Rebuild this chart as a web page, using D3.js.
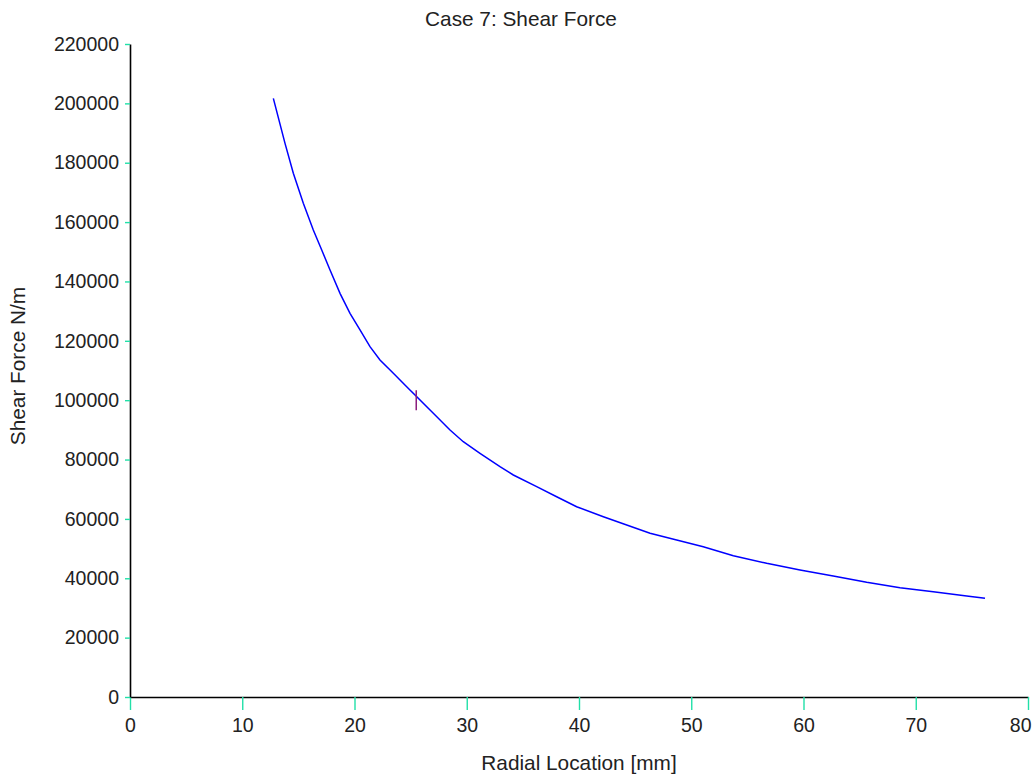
<!DOCTYPE html>
<html><head><meta charset="utf-8">
<script src="https://cdn.jsdelivr.net/npm/d3@7"></script>
<style>
body{margin:0;background:#fff;}
text{font-family:"Liberation Sans",Arial,sans-serif;fill:#222;}
</style></head>
<body><svg id="c" width="1034" height="779"></svg>
<script>
const radialMm = [12.77,13.81,14.55,15.44,16.33,17.08,17.82,18.71,19.6,20.49,21.38,22.27,23.46,24.65,25.39,26.73,28.51,29.69,31.18,32.96,34.15,36.23,38.01,39.79,42.17,44.25,46.33,48.7,51.07,53.75,56.72,59.69,62.65,65.63,68.6,71.56,74.54,76.17];
const shearForce = [201700,186540,176440,166330,157330,150600,143860,136000,129270,123650,118020,113540,109050,104540,101740,96690,89950,86010,82100,77590,74790,70850,67480,64110,60740,57950,55150,52890,50640,47600,45040,42790,40760,38640,36820,35480,34030,33250];
const xTicks = [0,10,20,30,40,50,60,70,80];
const yTicks = [0,20000,40000,60000,80000,100000,120000,140000,160000,180000,200000,220000];
const markerX = [25.5];
const markerY = [100000];
const title = "Case 7: Shear Force";
const xLabel = "Radial Location [mm]";
const yLabel = "Shear Force N/m";

const svg = d3.select("#c");
const L=130,R=1028,T=44,B=697;
const x = d3.scaleLinear().domain([0,80]).range([L,R]);
const y = d3.scaleLinear().domain([0,220000]).range([B,T]);
const tickCol = "#22e0a8";
const fs = 19.5;
const lfs = 20.8;

// x axis
const gx = svg.append("g").attr("transform",`translate(0,${B})`)
  .call(d3.axisBottom(x).tickValues(xTicks).tickSize(13).tickSizeOuter(0).tickFormat(d3.format("d")));
gx.select(".domain").attr("stroke","#000").attr("stroke-width",1.6);
gx.selectAll(".tick line").attr("stroke",tickCol).attr("stroke-width",1.4);
gx.selectAll(".tick text").attr("font-size",fs).attr("dy","1.0em").attr("y",15).attr("fill","#222");
gx.selectAll(".tick text").filter(d=>d===80).attr("text-anchor","end").attr("x",3);

// y axis
const gy = svg.append("g").attr("transform",`translate(${L},0)`)
  .call(d3.axisLeft(y).tickValues(yTicks).tickSize(5).tickSizeOuter(0).tickFormat(d3.format("d")));
gy.select(".domain").attr("stroke","#000").attr("stroke-width",1.6);
gy.selectAll(".tick line").attr("stroke",tickCol).attr("stroke-width",1.4);
gy.selectAll(".tick text").attr("font-size",fs).attr("x",-11).attr("fill","#222");
svg.selectAll("g").attr("font-family",null);

// curve
const pts = radialMm.map((r,i)=>[r,shearForce[i]]);
svg.append("path").datum(pts)
  .attr("d",d3.line().x(d=>x(d[0])).y(d=>y(d[1])))
  .attr("fill","none").attr("stroke","#0000ff").attr("stroke-width",1.5);

// marker
svg.selectAll(".mk").data(markerX).enter().append("line")
  .attr("x1",(d)=>x(d)).attr("x2",(d)=>x(d))
  .attr("y1",(d,i)=>y(markerY[i])-10).attr("y2",(d,i)=>y(markerY[i])+10)
  .attr("stroke","#8a1c7c").attr("stroke-width",1.5);

svg.append("text").attr("x",521).attr("y",26).attr("text-anchor","middle").attr("font-size",lfs).text(title);
svg.append("text").attr("x",579).attr("y",770).attr("text-anchor","middle").attr("font-size",lfs).text(xLabel);
svg.append("text").attr("transform","translate(25,366) rotate(-90)").attr("text-anchor","middle").attr("font-size",lfs).text(yLabel);
</script></body></html>
